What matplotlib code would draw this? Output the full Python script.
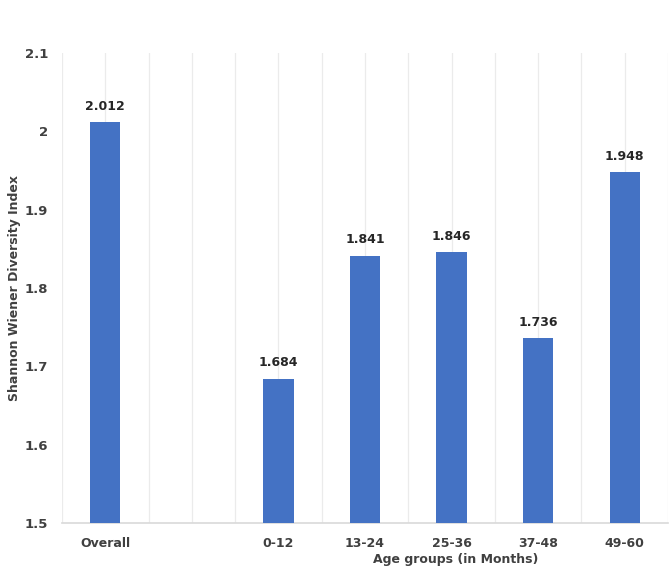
import numpy as np
import matplotlib
matplotlib.use("Agg")
import matplotlib.pyplot as plt

categories = ["Overall", "", "0-12", "13-24", "25-36", "37-48", "49-60"]
values = [2.012, np.nan, 1.684, 1.841, 1.846, 1.736, 1.948]
y_ticks = [1.5, 1.6, 1.7, 1.8, 1.9, 2.0, 2.1]
y_tick_labels = ["1.5", "1.6", "1.7", "1.8", "1.9", "2", "2.1"]

bar_color = "#4472C4"
text_color = "#404040"
grid_color = "#EBEBEB"

plt.rcParams["font.family"] = "DejaVu Sans"
plt.rcParams["font.weight"] = "bold"

fig = plt.figure(figsize=(6.7, 5.68), dpi=100)
ax = fig.add_axes([0.0925, 0.0792, 0.9045, 0.8275])

x = np.arange(len(categories))
ax.bar(x, values, width=0.35, color=bar_color, zorder=3)

for xi, v in zip(x, values):
    if np.isnan(v):
        continue
    ax.text(xi, v + 0.012, "%.3f" % v, ha="center", va="bottom",
            fontsize=9, fontweight="bold", color="#262626")

ax.set_xlim(-0.5, len(categories) - 0.5)
ax.set_ylim(1.5, 2.1)
ax.set_xticks(x)
ax.set_xticklabels(categories)
ax.set_yticks(y_ticks)
ax.set_yticklabels(y_tick_labels)

# vertical grid at centres and boundaries of categories
ax.set_xticks(np.arange(-0.5, len(categories), 1.0), minor=True)
ax.grid(axis="x", which="both", color=grid_color, linewidth=0.9, zorder=0)
ax.grid(axis="y", visible=False)

ax.tick_params(axis="both", which="both", length=0, colors=text_color)
ax.tick_params(axis="y", pad=10, labelsize=9.5)
ax.tick_params(axis="x", pad=10, labelsize=9)

for s in ["top", "right", "left"]:
    ax.spines[s].set_visible(False)
ax.spines["bottom"].set_color("#D9D9D9")
ax.spines["bottom"].set_linewidth(1.2)

ax.set_ylabel("Shannon Wiener Diversity Index", fontsize=9,
              fontweight="bold", color=text_color)
ax.yaxis.set_label_coords(-0.068, 0.5)
ax.set_xlabel("Age groups (in Months)", fontsize=9,
              fontweight="bold", color=text_color)
ax.xaxis.set_label_coords(0.649, -0.064)

fig.savefig("out.png", dpi=100, facecolor="white")
